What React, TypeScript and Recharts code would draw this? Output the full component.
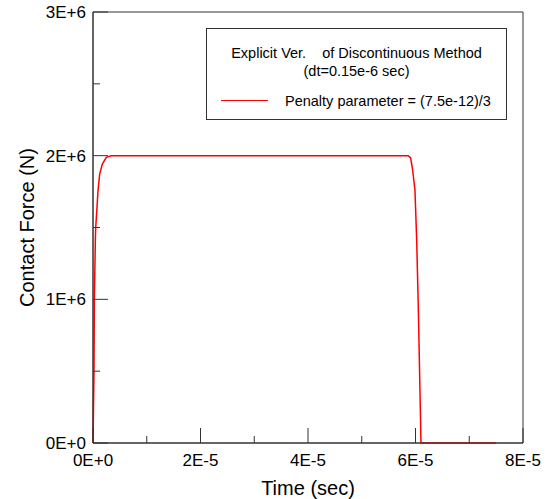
import { LineChart, Line, XAxis, YAxis, Legend, Label, ReferenceArea } from "recharts";

// contact force history, time in seconds, force in newtons
const TIME = [
  0, 1.86e-7, 2.48e-7, 4.34e-7, 4.96e-7, 7.44e-7, 9.3e-7, 1.24e-6, 1.74e-6,
  2.48e-6, 3.41e-6, 5.865e-5, 5.91e-5, 5.947e-5, 5.99e-5, 6.022e-5, 6.052e-5,
  6.083e-5, 6.102e-5, 7.5e-5,
];
const FORCE = [
  0, 0.5e6, 0.995e6, 1.407e6, 1.495e6, 1.64e6, 1.756e6, 1.872e6, 1.942e6,
  1.988e6, 2.0e6, 2.0e6, 1.985e6, 1.9e6, 1.76e6, 1.412e6, 0.948e6, 0.369e6,
  0, 0,
];

const X_TICKS = [0, 1e-5, 2e-5, 3e-5, 4e-5, 5e-5, 6e-5, 7e-5, 8e-5];
const X_LABELS = ["0E+0", "", "2E-5", "", "4E-5", "", "6E-5", "", "8E-5"];
const Y_TICKS = [0, 0.5e6, 1e6, 1.5e6, 2e6, 2.5e6, 3e6];
const Y_LABELS = ["0E+0", "", "1E+6", "", "2E+6", "", "3E+6"];

const SERIES_NAME = "Penalty parameter = (7.5e-12)/3";
const LEGEND_TITLE = ["Explicit Ver.    of Discontinuous Method", "(dt=0.15e-6 sec)"];

const data = TIME.map((t, i) => ({ t, force: FORCE[i] }));

const FONT = "'Liberation Sans', Arial, sans-serif";
const AXIS = "#333";

function YTick(props: any) {
  const { x, y, payload } = props;
  const i = Y_TICKS.indexOf(payload.value);
  const label = Y_LABELS[i] || "";
  return (
    <g>
      <line x1={x} x2={x + (label ? 15 : 7)} y1={y} y2={y} stroke={AXIS} />
      {label && (
        <text x={x - 7} y={y} dy="0.36em" textAnchor="end" fontSize={17} fontFamily={FONT} fill="#000">
          {label}
        </text>
      )}
    </g>
  );
}

function XTick(props: any) {
  const { x, y, payload } = props;
  const i = X_TICKS.indexOf(payload.value);
  const label = X_LABELS[i] || "";
  return (
    <g>
      <line x1={x} x2={x} y1={y} y2={y - (label ? 15 : 7)} stroke={AXIS} />
      {label && (
        <text x={x} y={y + 23} textAnchor="middle" fontSize={17} fontFamily={FONT} fill="#000">
          {label}
        </text>
      )}
    </g>
  );
}

function LegendBox() {
  return (
    <div
      style={{
        width: 301,
        height: 92,
        boxSizing: "border-box",
        border: `1px solid ${AXIS}`,
        background: "#fff",
        fontFamily: FONT,
        fontSize: 14.5,
        color: "#000",
        position: "relative",
      }}
    >
      <div style={{ position: "absolute", left: 0, right: 0, top: 15, textAlign: "center", whiteSpace: "pre", lineHeight: "18px" }}>
        {LEGEND_TITLE[0]}
        <br />
        {LEGEND_TITLE[1]}
      </div>
      <div style={{ position: "absolute", left: 14, width: 47, top: 71, borderTop: "1.5px solid #ff0000" }} />
      <div style={{ position: "absolute", left: 78, top: 63, lineHeight: "18px", whiteSpace: "pre" }}>{SERIES_NAME}</div>
    </div>
  );
}

export default function App() {
  return (
    <div style={{ position: "absolute", left: 0, top: 0, width: 548, height: 499, background: "#fff" }}>
      <LineChart width={548} height={499} data={data} margin={{ top: 12, right: 25, left: 0, bottom: 0 }}>
        <XAxis
          dataKey="t"
          type="number"
          domain={[0, 8e-5]}
          ticks={X_TICKS}
          interval={0}
          height={56}
          tickSize={0}
          tickMargin={0}
          tickLine={false}
          axisLine={{ stroke: AXIS }}
          tick={<XTick />}
        >
          <Label
            content={(p: any) => (
              <text
                x={p.viewBox.x + p.viewBox.width / 2}
                y={p.viewBox.y + 52}
                textAnchor="middle"
                fontSize={20}
                fontFamily={FONT}
                fill="#000"
              >
                Time (sec)
              </text>
            )}
          />
        </XAxis>
        <YAxis
          type="number"
          domain={[0, 3e6]}
          ticks={Y_TICKS}
          interval={0}
          width={93}
          tickSize={0}
          tickMargin={0}
          tickLine={false}
          axisLine={{ stroke: AXIS }}
          tick={<YTick />}
        >
          <Label
            content={(p: any) => {
              const cy = p.viewBox.y + p.viewBox.height / 2;
              return (
                <text
                  x={34}
                  y={cy}
                  transform={`rotate(-90, 34, ${cy})`}
                  textAnchor="middle"
                  fontSize={20}
                  fontFamily={FONT}
                  fill="#000"
                >
                  Contact Force (N)
                </text>
              );
            }}
          />
        </YAxis>
        {/* frame around the plot area */}
        <ReferenceArea x1={0} x2={8e-5} y1={0} y2={3e6} fill="none" stroke={AXIS} strokeWidth={1} ifOverflow="visible" />
        <Legend
          layout="horizontal"
          align="center"
          verticalAlign="middle"
          wrapperStyle={{ position: "absolute", left: 206, top: 28, width: 301, height: 92 }}
          content={() => <LegendBox />}
        />
        <Line
          type="linear"
          dataKey="force"
          name={SERIES_NAME}
          stroke="#ff0000"
          strokeWidth={1.5}
          dot={false}
          isAnimationActive={false}
        />
      </LineChart>
    </div>
  );
}
